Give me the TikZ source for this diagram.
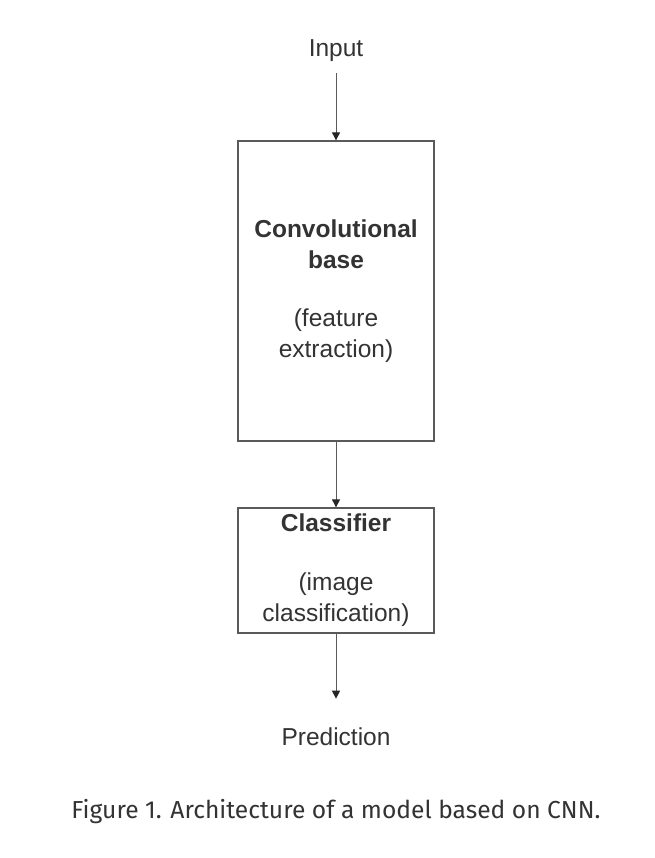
\documentclass[tikz,border=0pt]{standalone}
\usepackage{fontspec}
\setmainfont{Liberation Sans}
\newfontfamily\capfont{Fira Sans}
\usetikzlibrary{positioning,arrows.meta}
\definecolor{linegray}{HTML}{5A5A5A}
\definecolor{textgray}{HTML}{333333}
\tikzset{
    block/.style={draw=linegray, line width=1.3pt, minimum width=196pt, align=center,
        font=\fontsize{24.5}{31}\selectfont, text=textgray, inner sep=0pt},
    label text/.style={font=\fontsize{24.5}{31}\selectfont, text=textgray},
    flow/.style={-{Triangle[width=8pt,length=8pt,color=black!85]}, color=linegray, line width=0.9pt},
}
\begin{document}
\begin{tikzpicture}[x=1pt,y=1pt,on grid]
   \useasboundingbox (0,0) rectangle (654,-858);
   \fill[white] (0,0) rectangle (654,-858);
   \node[label text] (input) at (336,-51) {Input};
   \node[block, minimum height=300pt] (conv) [below=240pt of input]
        {\textbf{Convolutional}\\\textbf{base}\\[27pt](feature\\extraction)};
   \node[block, minimum height=125pt] (clf) [below=279.5pt of conv]
        {\textbf{Classifier}\\[28pt](image\\classification)};
   \node[label text] (pred) [below=166.5pt of clf] {Prediction};
   \node[font=\capfont\fontsize{24.6}{30}\selectfont, text=textgray] (caption)
        [below=75pt of pred] {Figure 1. Architecture of a model based on CNN.};
   \coordinate[below=22pt of input] (in0);
   \coordinate[below=65pt of clf.south] (out0);
    \path[flow]
    (in0) edge (conv.north)
    (conv.south) edge (clf.north)
    (clf.south) edge (out0);
\end{tikzpicture}
\end{document}
